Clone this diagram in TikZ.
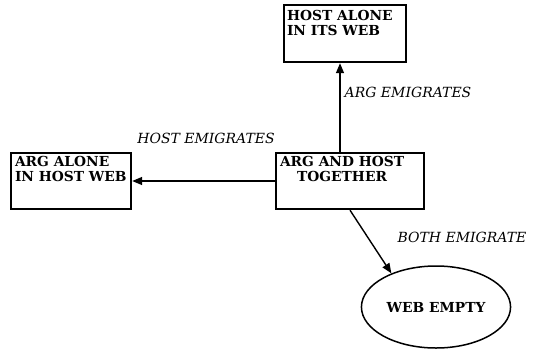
\documentclass[tikz,border=0pt]{standalone}
\usepackage{fontspec}
\setmainfont{DejaVu Serif}
\usetikzlibrary{arrows.meta,shapes.geometric}

\begin{document}
\begin{tikzpicture}[x=1pt, y=-1pt,
    box/.style={draw, line width=2.4pt, inner sep=0pt},
    txt/.style={font=\fontsize{13.8}{15}\selectfont\bfseries, align=left,
                anchor=north west, inner sep=0pt},
    lbl/.style={font=\fontsize{14}{16}\selectfont\itshape, inner sep=0pt},
    arr/.style={line width=1.4pt, -{Triangle[length=10pt,width=8pt]}}]

  \useasboundingbox (0,0) rectangle (543,349);

  % states
  \node[box, minimum width=122pt, minimum height=57pt] (hostweb) at (345,33.5) {};
  \node[box, minimum width=120pt, minimum height=56pt] (argweb) at (71,181) {};
  \node[box, minimum width=148pt, minimum height=56pt] (together) at (350,181) {};
  \node[draw, ellipse, line width=1.5pt, minimum width=132pt, minimum height=82pt]
    (empty) at (436,307) {\fontsize{13.8}{15}\selectfont\bfseries WEB EMPTY};

  \node[txt] (thost) at ([shift={(4,6)}]hostweb.north west) {HOST ALONE\\IN ITS WEB};
  \node[txt] (targ) at ([shift={(5,4)}]argweb.north west) {ARG ALONE\\IN HOST WEB};
  \node[txt, align=center] (ttog) at ([shift={(5,4)}]together.north west) {ARG AND HOST\\TOGETHER};

  % moves
  \draw[arr] ([xshift=-10pt]together.north) -- ([xshift=-10pt]together.north |- hostweb.south);
  \draw[arr] (together.west) -- (argweb.east);
  \draw[arr] (together.south) -- (empty.143);

  \node[lbl] (lhost) at (206,138) {HOST EMIGRATES};
  \node[lbl] (larg) at (408,92) {ARG EMIGRATES};
  \node[lbl] (lboth) at (462,237) {BOTH EMIGRATE};
\end{tikzpicture}
\end{document}
